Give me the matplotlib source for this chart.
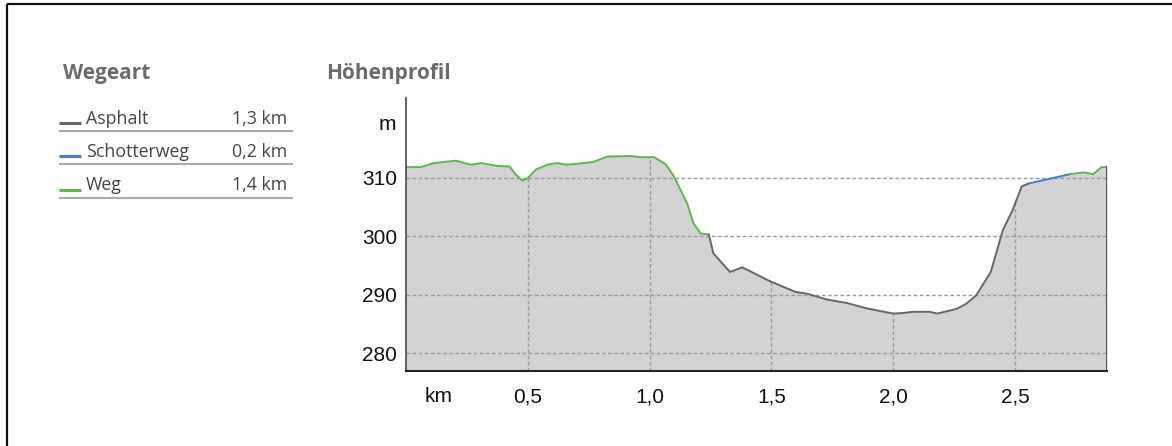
import matplotlib
matplotlib.use("Agg")
import matplotlib.pyplot as plt
import numpy as np

# ---- data -------------------------------------------------------------
km = [0.00, 0.06, 0.115, 0.205, 0.267, 0.307, 0.377, 0.426, 0.451, 0.478,
      0.499, 0.533, 0.58, 0.62, 0.66, 0.73, 0.77, 0.826, 0.92, 0.963,
      1.018, 1.066, 1.10, 1.154, 1.18, 1.209, 1.243, 1.261, 1.33, 1.38,
      1.49, 1.598, 1.646, 1.728, 1.81, 1.89, 2.00, 2.04, 2.08, 2.15,
      2.18, 2.26, 2.30, 2.34, 2.40, 2.45, 2.49, 2.527, 2.555, 2.64,
      2.725, 2.78, 2.82, 2.855, 2.877]
elev = [311.8, 311.8, 312.5, 312.9, 312.2, 312.5, 312.0, 311.9, 310.5, 309.5,
        309.9, 311.4, 312.2, 312.5, 312.2, 312.5, 312.7, 313.6, 313.7, 313.5,
        313.5, 312.3, 310.2, 305.6, 302.2, 300.5, 300.3, 297.1, 293.9, 294.7,
        292.4, 290.5, 290.2, 289.2, 288.6, 287.7, 286.8, 286.9, 287.1, 287.1,
        286.8, 287.6, 288.5, 289.9, 293.9, 301.1, 304.5, 308.5, 309.0, 309.8,
        310.6, 310.9, 310.6, 311.8, 311.8]

seg_start = [0.0, 1.243, 2.555, 2.725]
seg_end = [1.243, 2.555, 2.725, 2.877]
seg_type = ["Weg", "Asphalt", "Schotterweg", "Weg"]

legend_names = ["Asphalt", "Schotterweg", "Weg"]
legend_lengths = ["1,3 km", "0,2 km", "1,4 km"]

y_ticks = [280, 290, 300, 310]
x_ticks = [0.5, 1.0, 1.5, 2.0, 2.5]
x_ticklabels = ["0,5", "1,0", "1,5", "2,0", "2,5"]

colors = {"Asphalt": "#666666", "Schotterweg": "#4a7dc9", "Weg": "#5db84a"}

# ---- figure -----------------------------------------------------------
W, H = 1172, 446
fig = plt.figure(figsize=(W / 100, H / 100), dpi=100)

# overlay in pixel coordinates for legend / frame
ov = fig.add_axes([0, 0, 1, 1])
ov.set_xlim(0, W)
ov.set_ylim(H, 0)
ov.axis("off")

ax = fig.add_axes([406 / W, 1 - 371 / H, (1107 - 406) / W, (371 - 98) / H])

km_a = np.array(km)
el_a = np.array(elev)
ymin, ymax = 277.0, 323.6

fill = ax.fill_between(km_a, el_a, ymin, color="#d3d3d3", linewidth=0, zorder=1)

# horizontal dashed grid
for yv in y_ticks:
    ax.axhline(yv, color="#9a9a9a", lw=1.0, dashes=(2.6, 1.8), zorder=2)
# vertical dashed grid, clipped to the filled profile
vl = ax.vlines(x_ticks, ymin, ymax, colors="#9a9a9a", lw=1.0,
               linestyles=[(0, (2.6, 1.8))], zorder=2)
vl.set_clip_path(fill.get_paths()[0], fill.get_transform())

# profile line segments
for s, e, t in zip(seg_start, seg_end, seg_type):
    m = (km_a >= s - 1e-9) & (km_a <= e + 1e-9)
    ax.plot(km_a[m], el_a[m], color=colors[t], lw=1.4, zorder=4,
            solid_capstyle="round", solid_joinstyle="round")

# right edge of profile
ax.plot([km_a[-1], km_a[-1]], [ymin, el_a[-1]], color="#444444", lw=1.3, zorder=4)

ax.set_xlim(0, km_a[-1])
ax.set_ylim(ymin, ymax)
for sp in ["top", "right"]:
    ax.spines[sp].set_visible(False)
ax.spines["left"].set_color("#555555")
ax.spines["left"].set_linewidth(1.3)
ax.spines["bottom"].set_color("#222222")
ax.spines["bottom"].set_linewidth(1.5)
ax.spines["left"].set_zorder(5)
ax.spines["bottom"].set_zorder(5)

tick_font = dict(family="Liberation Sans", size=15, color="#111111")
ax.set_yticks(y_ticks)
ax.set_yticklabels([str(v) for v in y_ticks], **tick_font)
ax.set_xticks(x_ticks)
ax.set_xticklabels(x_ticklabels, **tick_font)
ax.tick_params(axis="y", length=0, pad=6.5)
ax.tick_params(axis="x", length=0, pad=12)

# axis unit labels
ov.text(396, 125, "m", ha="right", va="center", **tick_font)
ov.text(439, 396.5, "km", ha="center", va="center", **tick_font)

# titles
title_font = dict(family="Open Sans", weight="bold", size=15, color="#6b6b6b")
ov.text(63, 73, "Wegeart", ha="left", va="center", **title_font)
ov.text(326, 73, "Höhenprofil", ha="left", va="center", **title_font)

# legend
row_y = [118.5, 152, 185.5]
for name, length, yy in zip(legend_names, legend_lengths, row_y):
    ov.plot([59, 81], [yy + 4, yy + 4], color=colors[name], lw=2.2,
            solid_capstyle="butt")
    ov.text(86, yy, name, ha="left", va="center", family="Open Sans",
            size=12.8, color="#444444")
    ov.text(287, yy, length, ha="right", va="center", family="Open Sans",
            size=12.8, color="#444444")
    ov.plot([59, 293], [yy + 12, yy + 12], color="#aaaaaa", lw=1.5,
            solid_capstyle="butt")

# frame
ov.plot([6.5, W], [4, 4], color="#111111", lw=1.6, solid_capstyle="butt")
ov.plot([6.5, 6.5], [4, H], color="#111111", lw=1.6, solid_capstyle="butt")

fig.savefig("out.png", dpi=100)
